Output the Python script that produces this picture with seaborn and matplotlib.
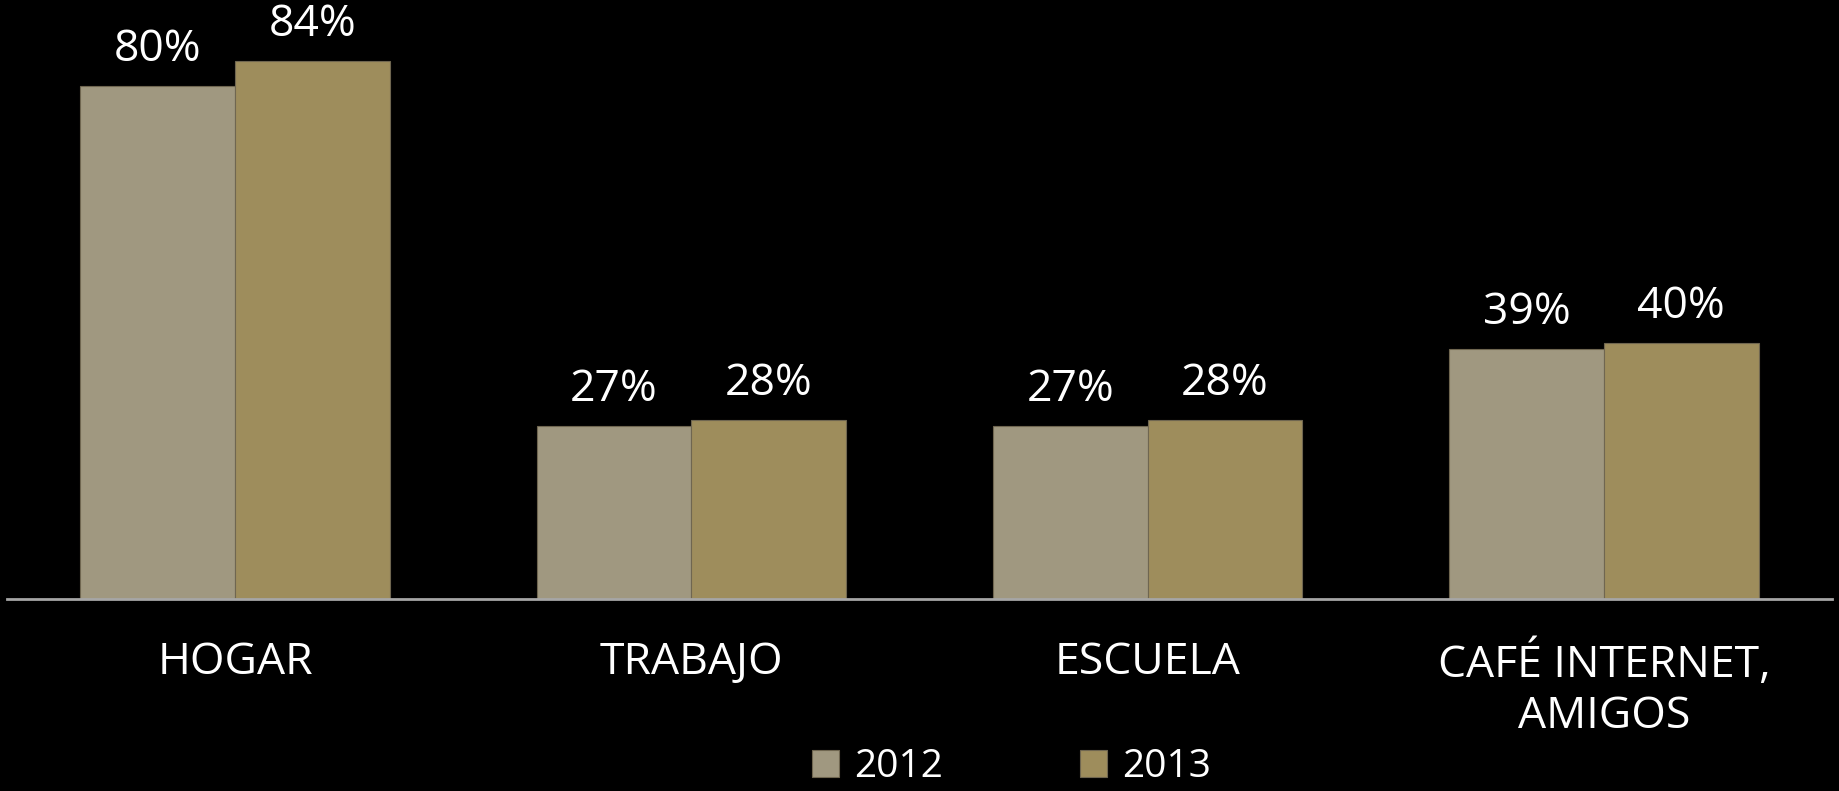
import matplotlib
matplotlib.use("Agg")
import matplotlib.pyplot as plt
import seaborn as sns
import pandas as pd

# Lugar de acceso, porcentaje por año
categories = ["HOGAR", "TRABAJO", "ESCUELA", "CAFÉ INTERNET,\nAMIGOS"]
years = ["2012", "2013"]
values_2012 = [80, 27, 27, 39]
values_2013 = [84, 28, 28, 40]
colors = ["#A09880", "#9E8D5C"]

df = pd.DataFrame({
    "lugar": categories * 2,
    "anio": [years[0]] * len(categories) + [years[1]] * len(categories),
    "valor": values_2012 + values_2013,
})

sns.set_theme(style="white")
plt.rcParams["font.family"] = ["Open Sans", "DejaVu Sans"]

fig = plt.figure(figsize=(18.39, 7.91), dpi=100, facecolor="black")
ax = fig.add_axes([7 / 1839, 192 / 791, 1825 / 1839, 599 / 791])
ax.set_facecolor("black")

sns.barplot(data=df, x="lugar", y="valor", hue="anio", palette=colors,
            saturation=1, width=0.678, gap=0, edgecolor="#6f6650",
            linewidth=0.8, ax=ax, legend=True)

for cont in ax.containers:
    ax.bar_label(cont, labels=[f"{v:.0f}%" for v in cont.datavalues],
                 padding=10, color="white", fontsize=32)

ax.set_xlim(-0.5, 3.5)
ax.set_ylim(0, 599 / 6.41)
ax.set_xlabel("")
ax.set_ylabel("")
ax.set_yticks([])
for s in ["top", "right", "left"]:
    ax.spines[s].set_visible(False)
ax.spines["bottom"].set_color("#A6A6A6")
ax.spines["bottom"].set_linewidth(2)
ax.tick_params(axis="x", length=0, pad=30, labelsize=32, colors="white")
for lbl in ax.get_xticklabels():
    lbl.set_linespacing(1.2)
    lbl.set_verticalalignment("top")

handles, labels = ax.get_legend_handles_labels()
ax.get_legend().remove()
fig.legend(handles, labels, loc="center", bbox_to_anchor=(0.55, 0.03),
           ncol=2, frameon=False, fontsize=28, labelcolor="white",
           handlelength=0.7, handleheight=0.7, handletextpad=0.4,
           columnspacing=3.5, borderaxespad=0, borderpad=0)

fig.savefig("out.png", dpi=100, facecolor="black")
